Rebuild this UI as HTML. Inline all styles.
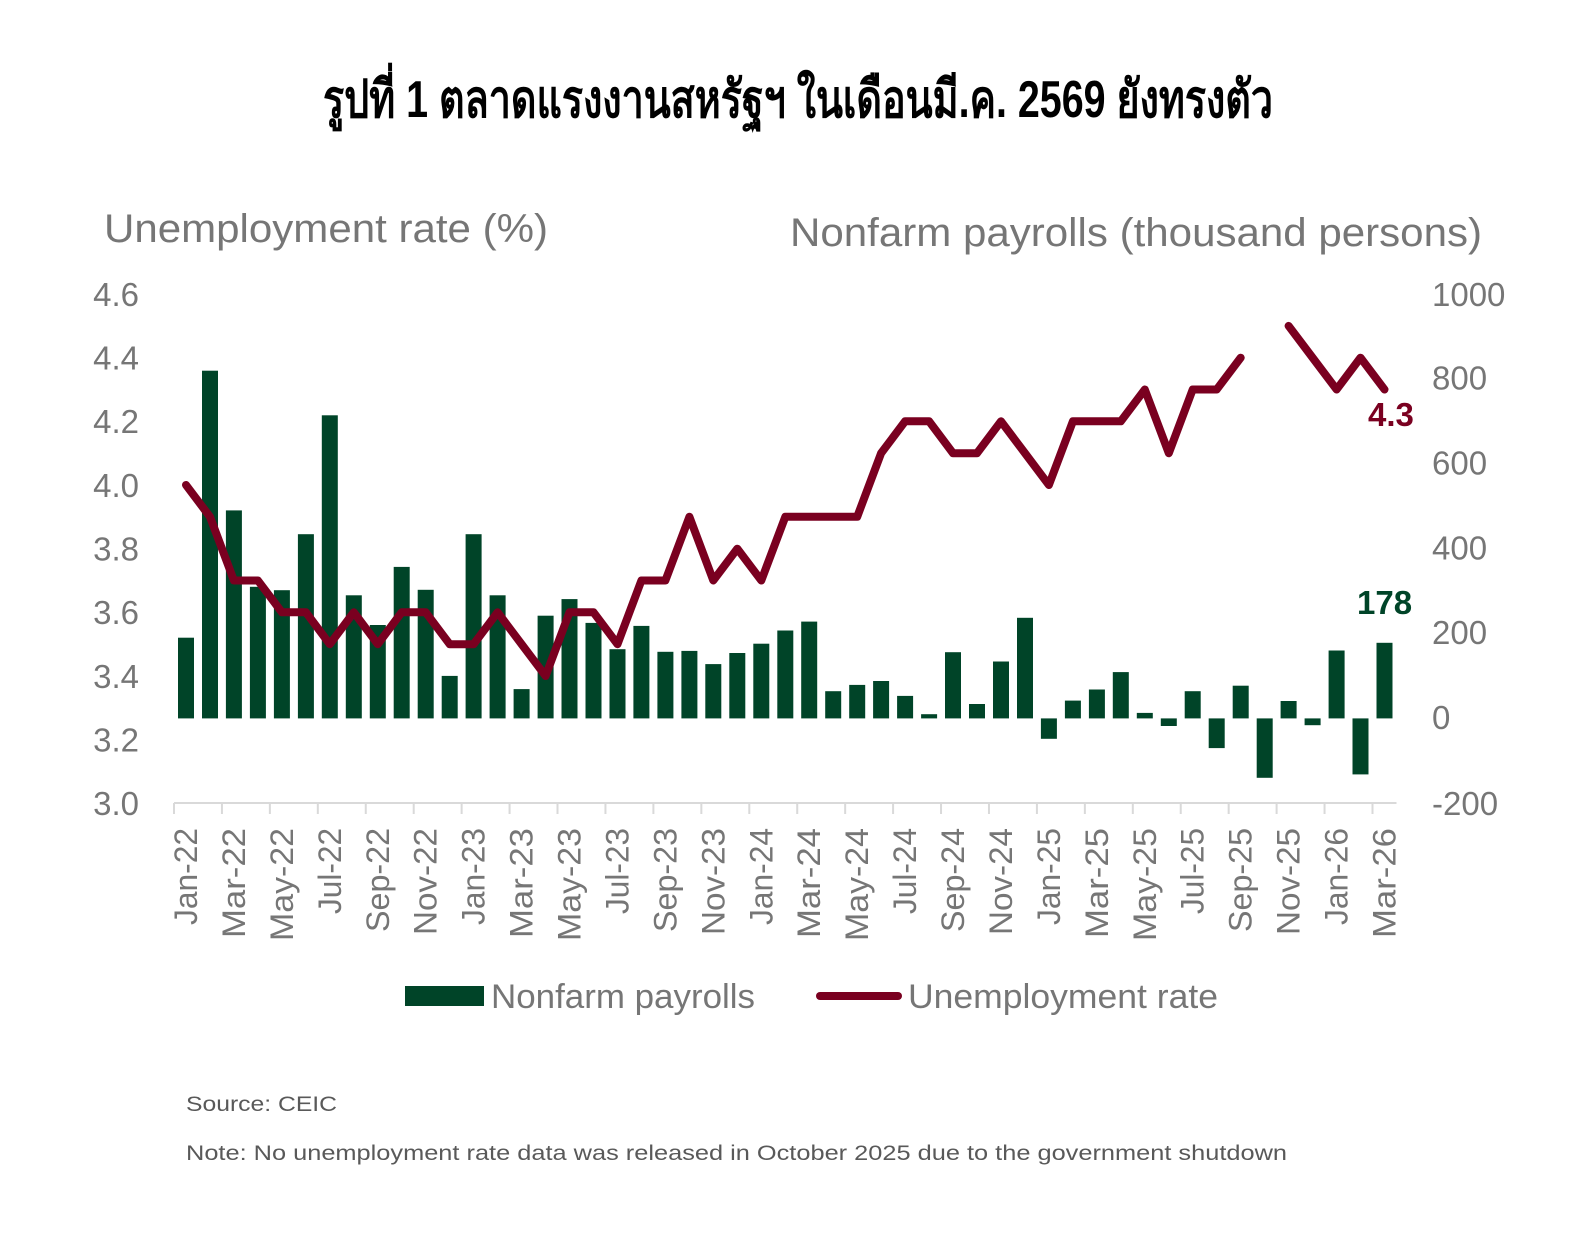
<!DOCTYPE html>
<html>
<head>
<meta charset="utf-8">
<style>
html,body{margin:0;padding:0;background:#fff;}
svg{display:block;}
text{font-family:"Liberation Sans","DejaVu Sans",sans-serif;}
</style>
</head>
<body>
<svg width="1595" height="1260" viewBox="0 0 1595 1260" xmlns="http://www.w3.org/2000/svg">
<rect x="0" y="0" width="1595" height="1260" fill="#ffffff"/>

<!-- Title -->
<text x="323" y="117" font-size="52" font-weight="bold" fill="#000" textLength="950" lengthAdjust="spacingAndGlyphs" style='font-family:"Liberation Sans","DejaVu Sans","Noto Sans CJK SC",sans-serif;'>รูปที่ 1 ตลาดแรงงานสหรัฐฯ ในเดือนมี.ค. 2569 ยังทรงตัว</text>

<!-- Axis titles -->
<text x="104" y="242" font-size="40" fill="#767676" textLength="444" lengthAdjust="spacingAndGlyphs">Unemployment rate (%)</text>
<text x="790" y="246" font-size="40" fill="#767676" textLength="692" lengthAdjust="spacingAndGlyphs">Nonfarm payrolls (thousand persons)</text>

<!-- Left axis labels -->
<g font-size="33" fill="#767676" text-anchor="end">
<text x="139" y="305.8">4.6</text>
<text x="139" y="369.5">4.4</text>
<text x="139" y="433.1">4.2</text>
<text x="139" y="496.8">4.0</text>
<text x="139" y="560.5">3.8</text>
<text x="139" y="624.1">3.6</text>
<text x="139" y="687.8">3.4</text>
<text x="139" y="751.5">3.2</text>
<text x="139" y="815.1">3.0</text>
</g>

<!-- Right axis labels -->
<g font-size="33" fill="#767676">
<text x="1432" y="305.8">1000</text>
<text x="1432" y="389.5">800</text>
<text x="1432" y="474.4">600</text>
<text x="1432" y="559.3">400</text>
<text x="1432" y="644.2">200</text>
<text x="1432" y="729.1">0</text>
<text x="1432" y="815.1">-200</text>
</g>

<!-- Bars -->
<g fill="#004428">
<rect x="178.0" y="637.7" width="16" height="80.7"/>
<rect x="202.0" y="370.7" width="16" height="347.7"/>
<rect x="225.9" y="510.4" width="16" height="208.0"/>
<rect x="249.9" y="586.8" width="16" height="131.6"/>
<rect x="273.9" y="590.2" width="16" height="128.2"/>
<rect x="297.9" y="534.2" width="16" height="184.2"/>
<rect x="321.8" y="415.3" width="16" height="303.1"/>
<rect x="345.8" y="595.3" width="16" height="123.1"/>
<rect x="369.8" y="625.0" width="16" height="93.4"/>
<rect x="393.7" y="566.9" width="16" height="151.5"/>
<rect x="417.7" y="589.8" width="16" height="128.6"/>
<rect x="441.7" y="675.9" width="16" height="42.5"/>
<rect x="465.6" y="534.2" width="16" height="184.2"/>
<rect x="489.6" y="595.3" width="16" height="123.1"/>
<rect x="513.6" y="689.1" width="16" height="29.3"/>
<rect x="537.6" y="615.7" width="16" height="102.7"/>
<rect x="561.5" y="599.1" width="16" height="119.3"/>
<rect x="585.5" y="622.9" width="16" height="95.5"/>
<rect x="609.5" y="649.2" width="16" height="69.2"/>
<rect x="633.4" y="625.9" width="16" height="92.5"/>
<rect x="657.4" y="651.8" width="16" height="66.6"/>
<rect x="681.4" y="650.9" width="16" height="67.5"/>
<rect x="705.3" y="664.1" width="16" height="54.3"/>
<rect x="729.3" y="653.0" width="16" height="65.4"/>
<rect x="753.3" y="643.7" width="16" height="74.7"/>
<rect x="777.3" y="630.5" width="16" height="87.9"/>
<rect x="801.2" y="621.6" width="16" height="96.8"/>
<rect x="825.2" y="691.2" width="16" height="27.2"/>
<rect x="849.2" y="684.9" width="16" height="33.5"/>
<rect x="873.1" y="681.0" width="16" height="37.4"/>
<rect x="897.1" y="695.9" width="16" height="22.5"/>
<rect x="921.1" y="714.2" width="16" height="4.2"/>
<rect x="945.0" y="652.2" width="16" height="66.2"/>
<rect x="969.0" y="704.0" width="16" height="14.4"/>
<rect x="993.0" y="661.5" width="16" height="56.9"/>
<rect x="1017.0" y="617.8" width="16" height="100.6"/>
<rect x="1040.9" y="718.4" width="16" height="20.4"/>
<rect x="1064.9" y="700.6" width="16" height="17.8"/>
<rect x="1088.9" y="689.5" width="16" height="28.9"/>
<rect x="1112.8" y="672.1" width="16" height="46.3"/>
<rect x="1136.8" y="712.9" width="16" height="5.5"/>
<rect x="1160.8" y="718.4" width="16" height="7.6"/>
<rect x="1184.7" y="691.2" width="16" height="27.2"/>
<rect x="1208.7" y="718.4" width="16" height="29.7"/>
<rect x="1232.7" y="685.7" width="16" height="32.7"/>
<rect x="1256.7" y="718.4" width="16" height="59.4"/>
<rect x="1280.6" y="701.0" width="16" height="17.4"/>
<rect x="1304.6" y="718.4" width="16" height="6.8"/>
<rect x="1328.6" y="650.5" width="16" height="67.9"/>
<rect x="1352.5" y="718.4" width="16" height="56.0"/>
<rect x="1376.5" y="642.8" width="16" height="75.6"/>
</g>

<!-- X axis -->
<line x1="174" y1="803" x2="1396.5" y2="803" stroke="#d9d9d9" stroke-width="2"/>
<path stroke="#d9d9d9" stroke-width="2" fill="none" d="M174,803V814 M221.94,803V814 M269.88,803V814 M317.82,803V814 M365.76,803V814 M413.7,803V814 M461.64,803V814 M509.58,803V814 M557.52,803V814 M605.46,803V814 M653.4,803V814 M701.34,803V814 M749.28,803V814 M797.22,803V814 M845.16,803V814 M893.1,803V814 M941.04,803V814 M988.98,803V814 M1036.92,803V814 M1084.86,803V814 M1132.8,803V814 M1180.74,803V814 M1228.68,803V814 M1276.62,803V814 M1324.56,803V814 M1372.5,803V814"/>

<!-- Unemployment line -->
<g fill="none" stroke="#7a0020" stroke-width="8" stroke-linejoin="round" stroke-linecap="round">
<polyline points="186.0,485.0 210.0,516.8 233.9,580.5 257.9,580.5 281.9,612.3 305.9,612.3 329.8,644.2 353.8,612.3 377.8,644.2 401.7,612.3 425.7,612.3 449.7,644.2 473.6,644.2 497.6,612.3 521.6,644.2 545.6,676.0 569.5,612.3 593.5,612.3 617.5,644.2 641.4,580.5 665.4,580.5 689.4,516.8 713.3,580.5 737.3,548.7 761.3,580.5 785.3,516.8 809.2,516.8 833.2,516.8 857.2,516.8 881.1,453.2 905.1,421.3 929.1,421.3 953.0,453.2 977.0,453.2 1001.0,421.3 1025.0,453.2 1048.9,485.0 1072.9,421.3 1096.9,421.3 1120.8,421.3 1144.8,389.5 1168.8,453.2 1192.7,389.5 1216.7,389.5 1240.7,357.7"/>
<polyline points="1288.6,325.9 1312.6,357.7 1336.6,389.5 1360.5,357.7 1384.5,389.5"/>
</g>

<!-- Data labels -->
<text x="1368" y="426" font-size="33" font-weight="bold" fill="#7a0020">4.3</text>
<text x="1357" y="614" font-size="33" font-weight="bold" fill="#004428">178</text>

<!-- X labels -->
<g font-size="32" fill="#767676" text-anchor="end">
<text transform="translate(197.0,828) rotate(-90)" textLength="97" lengthAdjust="spacingAndGlyphs">Jan-22</text>
<text transform="translate(244.9,828) rotate(-90)" textLength="110" lengthAdjust="spacingAndGlyphs">Mar-22</text>
<text transform="translate(292.9,828) rotate(-90)" textLength="113" lengthAdjust="spacingAndGlyphs">May-22</text>
<text transform="translate(340.8,828) rotate(-90)" textLength="86" lengthAdjust="spacingAndGlyphs">Jul-22</text>
<text transform="translate(388.8,828) rotate(-90)" textLength="104" lengthAdjust="spacingAndGlyphs">Sep-22</text>
<text transform="translate(436.7,828) rotate(-90)" textLength="107" lengthAdjust="spacingAndGlyphs">Nov-22</text>
<text transform="translate(484.6,828) rotate(-90)" textLength="97" lengthAdjust="spacingAndGlyphs">Jan-23</text>
<text transform="translate(532.6,828) rotate(-90)" textLength="110" lengthAdjust="spacingAndGlyphs">Mar-23</text>
<text transform="translate(580.5,828) rotate(-90)" textLength="113" lengthAdjust="spacingAndGlyphs">May-23</text>
<text transform="translate(628.5,828) rotate(-90)" textLength="86" lengthAdjust="spacingAndGlyphs">Jul-23</text>
<text transform="translate(676.4,828) rotate(-90)" textLength="104" lengthAdjust="spacingAndGlyphs">Sep-23</text>
<text transform="translate(724.3,828) rotate(-90)" textLength="107" lengthAdjust="spacingAndGlyphs">Nov-23</text>
<text transform="translate(772.3,828) rotate(-90)" textLength="97" lengthAdjust="spacingAndGlyphs">Jan-24</text>
<text transform="translate(820.2,828) rotate(-90)" textLength="110" lengthAdjust="spacingAndGlyphs">Mar-24</text>
<text transform="translate(868.2,828) rotate(-90)" textLength="113" lengthAdjust="spacingAndGlyphs">May-24</text>
<text transform="translate(916.1,828) rotate(-90)" textLength="86" lengthAdjust="spacingAndGlyphs">Jul-24</text>
<text transform="translate(964.0,828) rotate(-90)" textLength="104" lengthAdjust="spacingAndGlyphs">Sep-24</text>
<text transform="translate(1012.0,828) rotate(-90)" textLength="107" lengthAdjust="spacingAndGlyphs">Nov-24</text>
<text transform="translate(1059.9,828) rotate(-90)" textLength="97" lengthAdjust="spacingAndGlyphs">Jan-25</text>
<text transform="translate(1107.9,828) rotate(-90)" textLength="110" lengthAdjust="spacingAndGlyphs">Mar-25</text>
<text transform="translate(1155.8,828) rotate(-90)" textLength="113" lengthAdjust="spacingAndGlyphs">May-25</text>
<text transform="translate(1203.7,828) rotate(-90)" textLength="86" lengthAdjust="spacingAndGlyphs">Jul-25</text>
<text transform="translate(1251.7,828) rotate(-90)" textLength="104" lengthAdjust="spacingAndGlyphs">Sep-25</text>
<text transform="translate(1299.6,828) rotate(-90)" textLength="107" lengthAdjust="spacingAndGlyphs">Nov-25</text>
<text transform="translate(1347.6,828) rotate(-90)" textLength="97" lengthAdjust="spacingAndGlyphs">Jan-26</text>
<text transform="translate(1395.5,828) rotate(-90)" textLength="110" lengthAdjust="spacingAndGlyphs">Mar-26</text>
</g>

<!-- Legend -->
<rect x="405" y="986" width="79" height="20" fill="#004428"/>
<text x="491" y="1008" font-size="34" fill="#767676" textLength="264" lengthAdjust="spacingAndGlyphs">Nonfarm payrolls</text>
<line x1="820" y1="996" x2="898" y2="996" stroke="#7a0020" stroke-width="8" stroke-linecap="round"/>
<text x="908" y="1008" font-size="34" fill="#767676" textLength="310" lengthAdjust="spacingAndGlyphs">Unemployment rate</text>

<!-- Footnotes -->
<text x="186" y="1111" font-size="21" fill="#595959" textLength="151" lengthAdjust="spacingAndGlyphs">Source: CEIC</text>
<text x="186" y="1160" font-size="21" fill="#595959" textLength="1101" lengthAdjust="spacingAndGlyphs">Note: No unemployment rate data was released in October 2025 due to the government shutdown</text>
</svg>
</body>
</html>
